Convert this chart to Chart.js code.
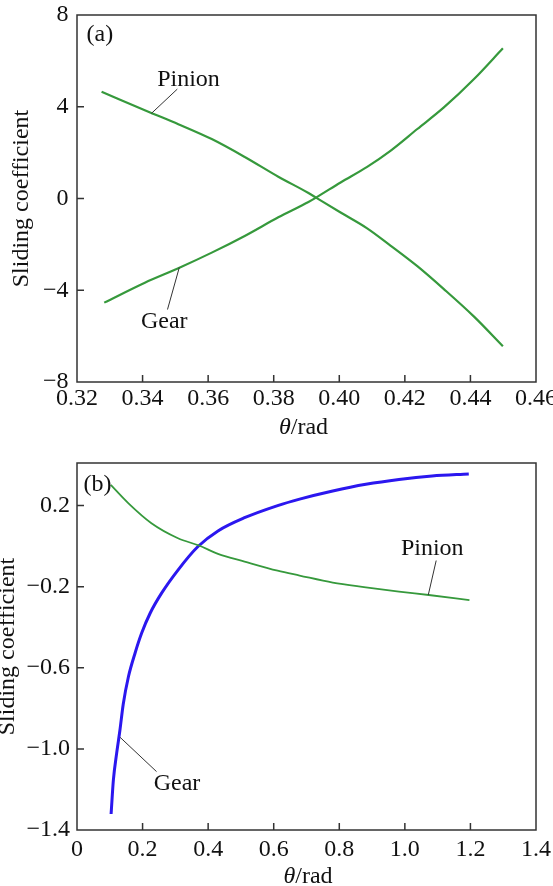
<!DOCTYPE html>
<html><head><meta charset="utf-8">
<script src="https://cdn.jsdelivr.net/npm/chart.js@4/dist/chart.umd.min.js"></script>
<style>
html,body{margin:0;padding:0;background:#fff;width:553px;height:886px;overflow:hidden}
canvas{position:absolute;left:0;display:block}
#ca{top:0}
#cb{top:440px}
</style></head><body>
<canvas id="ca" width="553" height="440"></canvas>
<canvas id="cb" width="553" height="446"></canvas>
<script>
// ---------- data: panel (a) ----------
const thetaA_pinion = [0.3275, 0.3423, 0.3509, 0.3611, 0.3713, 0.3814, 0.3906, 0.3929, 0.4004, 0.4085, 0.4156, 0.4238, 0.4319, 0.4411, 0.4499];
const slideA_pinion = [4.65, 3.75, 3.24, 2.59, 1.80, 0.95, 0.24, 0.04, -0.61, -1.30, -2.05, -2.95, -3.95, -5.15, -6.44];
const thetaA_gear = [0.3283, 0.3407, 0.3509, 0.3611, 0.3713, 0.3814, 0.3906, 0.3929, 0.4004, 0.4085, 0.4156, 0.4238, 0.4319, 0.4411, 0.4499];
const slideA_gear = [-4.54, -3.67, -3.04, -2.36, -1.62, -0.82, -0.15, 0.04, 0.70, 1.38, 2.08, 3.03, 3.97, 5.21, 6.55];
const xTicksA = [0.32, 0.34, 0.36, 0.38, 0.40, 0.42, 0.44, 0.46];
const xLabelsA = ['0.32', '0.34', '0.36', '0.38', '0.40', '0.42', '0.44', '0.46'];
const yTicksA = [-8, -4, 0, 4, 8];
const yLabelsA = ['\u22128', '\u22124', '0', '4', '8'];

// ---------- data: panel (b) ----------
const thetaB_pinion = [0.103, 0.157, 0.227, 0.308, 0.372, 0.430, 0.511, 0.612, 0.679, 0.780, 0.881, 0.982, 1.073, 1.197];
const slideB_pinion = [0.302, 0.211, 0.113, 0.039, 0.003, -0.038, -0.076, -0.121, -0.145, -0.180, -0.203, -0.224, -0.241, -0.266];
const thetaB_gear = [0.104, 0.111, 0.121, 0.131, 0.141, 0.157, 0.177, 0.197, 0.223, 0.258, 0.308, 0.369, 0.430, 0.511, 0.612, 0.679, 0.780, 0.881, 0.982, 1.083, 1.195];
const slideB_gear = [-1.321, -1.153, -1.021, -0.907, -0.780, -0.643, -0.528, -0.430, -0.331, -0.232, -0.118, -0.002, 0.075, 0.140, 0.200, 0.232, 0.272, 0.305, 0.329, 0.346, 0.356];
const xTicksB = [0, 0.2, 0.4, 0.6, 0.8, 1.0, 1.2, 1.4];
const xLabelsB = ['0', '0.2', '0.4', '0.6', '0.8', '1.0', '1.2', '1.4'];
const yTicksB = [0.2, -0.2, -0.6, -1.0, -1.4];
const yLabelsB = ['0.2', '\u22120.2', '\u22120.6', '\u22121.0', '\u22121.4'];

// ---------- annotation labels (data coordinates) ----------
const notesA = [
  {text: '(a)', x: 0.3229, y: 6.85, align: 'left'},
  {text: 'Pinion', x: 0.3540, y: 4.92, align: 'center'},
  {text: 'Gear', x: 0.3466, y: -5.63, align: 'center'}
];
const leadersA = [[0.3506, 4.77, 0.3427, 3.71], [0.3476, -4.84, 0.3512, -3.01]];
const notesB = [
  {text: '(b)', x: 0.020, y: 0.273, align: 'left'},
  {text: 'Pinion', x: 1.0835, y: -0.0436, align: 'center'},
  {text: 'Gear', x: 0.305, y: -1.202, align: 'center'}
];
const leadersB = [[1.0956, -0.071, 1.0714, -0.241], [0.2426, -1.112, 0.1315, -0.943]];

const FAM = '"Liberation Serif", "Times New Roman", Times, serif';
const TXT = '#111111';
const GREEN = '#36993c';
const BLUE = '#2b17ef';

function pts(xs, ys) { return xs.map((x, i) => ({x: x, y: ys[i]})); }

const framePlugin = {
  id: 'frame',
  afterDraw(chart, args, o) {
    const {ctx, chartArea: a, scales: {x, y}} = chart;
    ctx.save();
    ctx.strokeStyle = '#333';
    ctx.lineWidth = 1.5;
    ctx.strokeRect(a.left, a.top, a.right - a.left, a.bottom - a.top);
    ctx.beginPath();
    x.ticks.forEach(t => {
      const px = x.getPixelForValue(t.value);
      if (px > a.left + 2 && px < a.right - 2) { ctx.moveTo(px, a.bottom); ctx.lineTo(px, a.bottom - 7); }
    });
    y.ticks.forEach(t => {
      const py = y.getPixelForValue(t.value);
      if (py > a.top + 2 && py < a.bottom - 2) { ctx.moveTo(a.left, py); ctx.lineTo(a.left + 7, py); }
    });
    ctx.stroke();
    // leader lines
    ctx.lineWidth = 1;
    ctx.strokeStyle = '#333';
    ctx.beginPath();
    o.leaders.forEach(l => {
      ctx.moveTo(x.getPixelForValue(l[0]), y.getPixelForValue(l[1]));
      ctx.lineTo(x.getPixelForValue(l[2]), y.getPixelForValue(l[3]));
    });
    ctx.stroke();
    // labels
    ctx.fillStyle = TXT;
    ctx.font = '24px ' + FAM;
    ctx.textBaseline = 'alphabetic';
    o.notes.forEach(n => {
      ctx.textAlign = n.align;
      ctx.fillText(n.text, x.getPixelForValue(n.x), y.getPixelForValue(n.y));
    });
    // x axis title: italic theta + "/rad"
    const italic = 'italic 24px ' + FAM, normal = '24px ' + FAM;
    ctx.font = italic; const w1 = ctx.measureText('\u03b8').width;
    ctx.font = normal; const w2 = ctx.measureText('/rad').width;
    const cx = (a.left + a.right) / 2 + o.titleDx;
    const by = a.bottom + o.titleDy;
    ctx.textAlign = 'left';
    ctx.font = italic; ctx.fillText('\u03b8', cx - (w1 + w2) / 2, by);
    ctx.font = normal; ctx.fillText('/rad', cx - (w1 + w2) / 2 + w1, by);
    ctx.restore();
  }
};

function makeChart(id, cfg) {
  return new Chart(document.getElementById(id), {
    type: 'line',
    data: {datasets: cfg.datasets},
    plugins: [framePlugin],
    options: {
      responsive: false,
      animation: false,
      events: [],
      layout: {padding: {left: 0, right: 17, top: cfg.padTop, bottom: 0}},
      plugins: {
        legend: {display: false},
        tooltip: {enabled: false},
        frame: {notes: cfg.notes, leaders: cfg.leaders, titleDx: cfg.titleDx, titleDy: cfg.titleDy}
      },
      elements: {point: {radius: 0}, line: {cubicInterpolationMode: 'monotone'}},
      scales: {
        x: {
          type: 'linear', min: cfg.xMin, max: cfg.xMax,
          afterBuildTicks: s => { s.ticks = cfg.xTicks.map(v => ({value: v})); },
          ticks: {callback: (v, i) => cfg.xLabels[i], font: {family: FAM, size: 24}, color: TXT,
                  padding: cfg.xPad, maxRotation: 0, autoSkip: false},
          grid: {display: false, drawTicks: false},
          border: {display: false},
          afterFit: s => { s.height = cfg.xHeight; s.paddingLeft = 0; s.paddingRight = 0; }
        },
        y: {
          type: 'linear', min: cfg.yMin, max: cfg.yMax,
          afterBuildTicks: s => { s.ticks = cfg.yTicks.map(v => ({value: v})); },
          ticks: {callback: (v, i) => cfg.yLabels[i], font: {family: FAM, size: 24}, color: TXT,
                  padding: cfg.yPad, autoSkip: false},
          grid: {display: false, drawTicks: false},
          border: {display: false},
          title: {display: true, text: 'Sliding coefficient', color: TXT,
                  font: {family: FAM, size: 24, lineHeight: cfg.yTitleLH}, padding: {top: cfg.yTitlePad, bottom: 0}},
          afterFit: s => { s.width = 77; s.paddingTop = 0; s.paddingBottom = 0; }
        }
      }
    }
  });
}

makeChart('ca', {
  datasets: [
    {label: 'Pinion', data: pts(thetaA_pinion, slideA_pinion), borderColor: GREEN, borderWidth: 2.2, fill: false},
    {label: 'Gear', data: pts(thetaA_gear, slideA_gear), borderColor: GREEN, borderWidth: 2.2, fill: false}
  ],
  xMin: 0.32, xMax: 0.46, yMin: -8, yMax: 8,
  xTicks: xTicksA, xLabels: xLabelsA, yTicks: yTicksA, yLabels: yLabelsA,
  padTop: 15, xHeight: 58, xPad: 2, yPad: 8.5, yTitleLH: 1, yTitlePad: 10,
  notes: notesA, leaders: leadersA, titleDx: -3, titleDy: 52
});

makeChart('cb', {
  datasets: [
    {label: 'Pinion', data: pts(thetaB_pinion, slideB_pinion), borderColor: GREEN, borderWidth: 1.8, fill: false},
    {label: 'Gear', data: pts(thetaB_gear, slideB_gear), borderColor: BLUE, borderWidth: 3, fill: false}
  ],
  xMin: 0, xMax: 1.4, yMin: -1.40, yMax: 0.41,
  xTicks: xTicksB, xLabels: xLabelsB, yTicks: yTicksB, yLabels: yLabelsB,
  padTop: 23, xHeight: 56, xPad: 5.5, yPad: 7, yTitleLH: 0.3, yTitlePad: 4,
  notes: notesB, leaders: leadersB, titleDx: 1.5, titleDy: 53
});
</script>
</body></html>
